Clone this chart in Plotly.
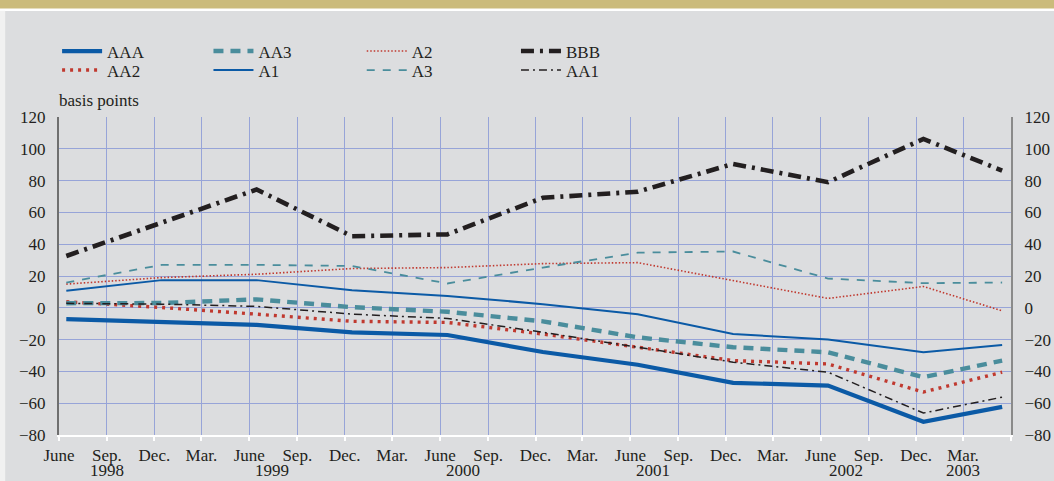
import plotly.graph_objects as go

# semi-annual observation dates (mid-month), last one May 2003
dates = ["1998-06-15", "1998-12-15", "1999-06-15", "1999-12-15", "2000-06-15",
         "2000-12-15", "2001-06-15", "2001-12-15", "2002-06-15", "2002-12-15",
         "2003-05-15"]

aaa = [-7.1, -9.0, -10.8, -15.5, -17.1, -27.8, -35.8, -47.2, -48.9, -71.7, -62.3]
aa1 = [2.8, 2.3, 0.9, -4.0, -6.7, -15.4, -24.8, -34.2, -40.5, -66.2, -56.2]
aa2 = [3.8, 0.2, -4.0, -8.5, -9.2, -16.5, -24.8, -33.2, -35.3, -53.0, -40.5]
aa3 = [2.9, 3.0, 5.3, 0.4, -2.5, -8.5, -18.6, -24.8, -28.0, -43.6, -33.2]
a1 = [10.7, 17.4, 17.4, 11.0, 7.5, 2.3, -4.0, -16.5, -20.0, -28.0, -23.4]
a2 = [14.9, 19.0, 21.1, 24.7, 25.3, 27.8, 28.4, 16.9, 5.9, 13.4, -1.9]
a3 = [15.9, 27.0, 27.0, 26.3, 15.3, 25.3, 34.7, 35.4, 18.4, 15.5, 15.9]
bbb = [32.6, 53.6, 74.4, 45.0, 46.2, 69.2, 73.0, 90.5, 79.0, 106.2, 86.3]

tick_dates = ["1998-06-01", "1998-09-01", "1998-12-01", "1999-03-01", "1999-06-01",
              "1999-09-01", "1999-12-01", "2000-03-01", "2000-06-01", "2000-09-01",
              "2000-12-01", "2001-03-01", "2001-06-01", "2001-09-01", "2001-12-01",
              "2002-03-01", "2002-06-01", "2002-09-01", "2002-12-01", "2003-03-01",
              "2003-06-01"]
tick_text = ["June", "Sep.", "Dec.", "Mar."] * 5 + [""]

years = ["1998", "1999", "2000", "2001", "2002", "2003"]
year_pos = ["1998-09-01", "1999-07-15", "2000-07-15", "2001-07-15", "2002-07-20", "2003-03-01"]

y_ticks = [-80, -60, -40, -20, 0, 20, 40, 60, 80, 100, 120]

FONT = "Liberation Serif, Times New Roman, serif"
TXT = "#231f20"
BLUE = "#0b5aa6"
RED = "#c0392f"
TEAL = "#4a8d9c"
BLACK = "#231f20"
GRID = "#97a4d8"
BG = "#dcdddf"

series = [
    ("AAA", aaa, dict(color=BLUE, width=4.2, dash="solid")),
    ("AA2", aa2, dict(color=RED, width=3.4, dash="3px,5px")),
    ("AA3", aa3, dict(color=TEAL, width=4.4, dash="10px,7px")),
    ("A1", a1, dict(color=BLUE, width=2, dash="solid")),
    ("A2", a2, dict(color=RED, width=1.6, dash="1.5px,2px")),
    ("A3", a3, dict(color=TEAL, width=1.8, dash="8px,8px")),
    ("BBB", bbb, dict(color=BLACK, width=4.6, dash="13px,6px,3px,6px")),
    ("AA1", aa1, dict(color=BLACK, width=1.5, dash="8px,4px,2px,4px")),
]

# one small legend per entry: 4 columns x 2 rows
leg_x = [-0.002, -0.002, 0.157, 0.157, 0.318, 0.318, 0.48, 0.48]
leg_y = [1.2626, 1.2028] * 4

fig = go.Figure()
for i, (name, vals, line) in enumerate(series):
    leg = "legend" if i == 0 else "legend%d" % (i + 1)
    fig.add_trace(go.Scatter(x=dates, y=vals, name=name, mode="lines",
                             line=line, legend=leg))
    fig.update_layout({leg: dict(x=leg_x[i], y=leg_y[i], xref="paper", yref="paper",
                                 xanchor="left", yanchor="top", itemwidth=40,
                                 bgcolor="rgba(0,0,0,0)",
                                 font=dict(family=FONT, size=17, color=TXT))})

# invisible companion on right axis so it gets drawn
fig.add_trace(go.Scatter(x=dates, y=bbb, yaxis="y2", mode="lines",
                         line=dict(width=0), showlegend=False, hoverinfo="skip"))

axis_font = dict(family=FONT, size=17, color=TXT)
fig.update_layout(
    width=1054, height=481,
    margin=dict(l=59, r=43, t=117, b=46, autoexpand=False),
    paper_bgcolor=BG, plot_bgcolor=BG,
    font=axis_font,
    xaxis=dict(type="date", range=["1998-06-01", "2003-06-01"],
               tickvals=tick_dates, ticktext=tick_text, tickangle=0,
               showgrid=True, gridcolor=GRID, gridwidth=1, automargin=False,
               showline=True, linecolor="white", linewidth=2,
               ticks="outside", tickcolor="white", ticklen=4, tickwidth=2,
               tickfont=axis_font, zeroline=False),
    yaxis=dict(range=[-80, 120], tickvals=y_ticks, showgrid=True, gridcolor=GRID,
               gridwidth=1, zeroline=False, showline=True, linecolor="#6f6f6f",
               linewidth=2, ticks="", tickfont=axis_font, ticklabelstandoff=8,
               automargin=False),
    yaxis2=dict(range=[-80, 120], tickvals=y_ticks, overlaying="y", side="right",
                showgrid=False, zeroline=False, showline=True, linecolor="#8a8a8a",
                linewidth=2, ticks="", tickfont=axis_font, ticklabelstandoff=8,
                automargin=False),
)

for yr, pos in zip(years, year_pos):
    fig.add_annotation(x=pos, y=-0.113, xref="x", yref="paper", text=yr,
                       showarrow=False, font=axis_font, xanchor="center", yanchor="middle")

fig.add_annotation(x=-0.002, y=1.015, xref="paper", yref="paper", text="basis points",
                   showarrow=False, font=axis_font, xanchor="left", yanchor="bottom")

# page decoration: gold band, white rule, pale left strip
fig.add_shape(type="rect", xref="paper", yref="paper", x0=-0.07, x1=1.05,
              y0=1.34, y1=1.38, fillcolor="#cbbb7b", line_width=0, layer="below")
fig.add_shape(type="rect", xref="paper", yref="paper", x0=-0.07, x1=1.05,
              y0=1.333, y1=1.341, fillcolor="white", line_width=0, layer="below")
fig.add_shape(type="rect", xref="paper", yref="paper", x0=-0.07, x1=-0.0565,
              y0=-0.2, y1=1.334, fillcolor="#f1f1f1", line_width=0, layer="below")

fig.write_html("out.html", config={"displayModeBar": False},
               post_script="document.body.style.margin='0';")
